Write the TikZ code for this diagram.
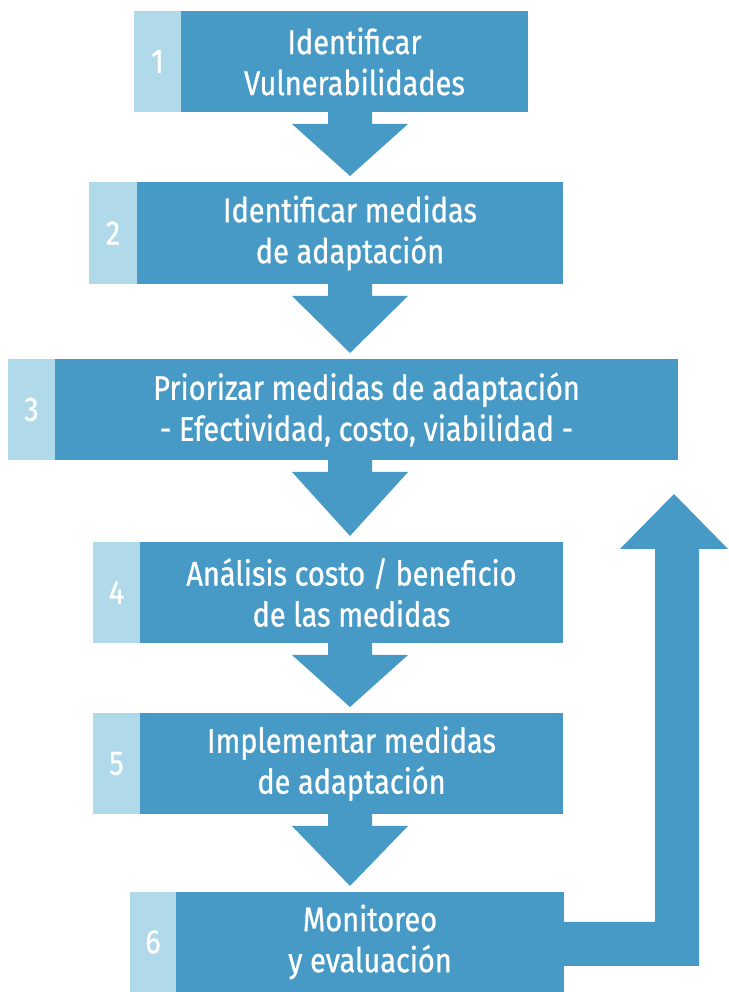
\documentclass[tikz,border=0pt]{standalone}
\usepackage{fontspec}
\setmainfont[FakeStretch=0.85, FakeBold=0.8]{Fira Sans}
\usepackage{tikz}
\usetikzlibrary{calc}
\definecolor{stepblue}{RGB}{70,154,197}
\definecolor{numblue}{RGB}{176,218,234}
\tikzset{
  numbox/.style={fill=numblue, text=white, inner sep=0pt, outer sep=0pt, anchor=north west, minimum width=47pt, minimum height=101pt, font=\fontsize{34}{41}\selectfont},
  stepbox/.style={fill=stepblue, text=white, inner sep=0pt, outer sep=0pt, anchor=north west, align=center, minimum height=101pt, font=\fontsize{34}{41}\selectfont}
}
% block arrow going down from one box to the next one
\newcommand{\blockdown}[2]{\fill[stepblue] let \p1=(#1.south), \p2=(#2.north) in (328pt,\y1) -- (328pt,\y1-12pt) -- (292pt,\y1-12pt) -- (350pt,\y2+6pt) -- (408pt,\y1-12pt) -- (372pt,\y1-12pt) -- (372pt,\y1) -- cycle;}

\begin{document}
\begin{tikzpicture}[x=1pt, y=1pt]
			%%%%% START %%%%%
			\useasboundingbox (0, 0) rectangle (728, 992);
			
			\node[numbox] (n1) at (134, 981) {1};
			\node[stepbox, minimum width=347pt] (s1) at (n1.north east) {Identificar\\Vulnerabilidades};
			
			\node[numbox, minimum width=48pt, minimum height=102pt] (n2) at (89, 810) {2};
			\node[stepbox, minimum width=426pt, minimum height=102pt] (s2) at (n2.north east) {Identificar medidas\\de adaptación};
			
			\node[numbox] (n3) at (8, 633) {3};
			\node[stepbox, minimum width=623pt] (s3) at (n3.north east) {Priorizar medidas de adaptación\\- Efectividad, costo, viabilidad -};
			
			\node[numbox] (n4) at (93, 450) {4};
			\node[stepbox, minimum width=423pt] (s4) at (n4.north east) {Análisis costo / beneficio\\de las medidas};
			
			\node[numbox] (n5) at (93, 279) {5};
			\node[stepbox, minimum width=423pt] (s5) at (n5.north east) {Implementar medidas\\de adaptación};
			
			\node[numbox, minimum width=46pt, minimum height=100pt] (n6) at (130, 100) {6};
			\node[stepbox, minimum width=388pt, minimum height=100pt] (s6) at (n6.north east) {Monitoreo\\y evaluación};
			
			\blockdown{s1}{s2}
			\blockdown{s2}{s3}
			\blockdown{s3}{s4}
			\blockdown{s4}{s5}
			\blockdown{s5}{s6}
			
			% back to the top
			\fill[stepblue] let \p1=(s6.east) in (\x1, \y1+20) -- (655, \y1+20) -- (655, 443) -- (620, 443) -- (674, 498) -- (728, 443) -- (699, 443) -- (699, \y1-24) -- (\x1, \y1-24) -- cycle;
			
			%%%%% END %%%%%
		\end{tikzpicture}
\end{document}
